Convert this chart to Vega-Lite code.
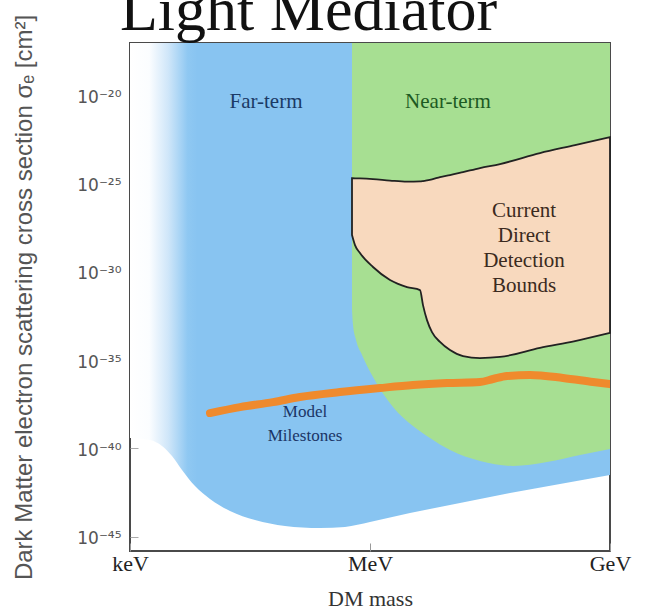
{
  "$schema": "https://vega.github.io/schema/vega-lite/v6.json",
  "width": 480,
  "height": 508,
  "autosize": {"type": "none"},
  "padding": {"left": 130, "top": 43, "right": 47, "bottom": 55},
  "background": "white",
  "view": {"stroke": "#4a4a4a", "strokeWidth": 2},
  "config": {"font": "Liberation Sans"},
  "title": {
    "text": "Light Mediator",
    "font": "Liberation Serif",
    "fontSize": 62,
    "fontWeight": "normal",
    "color": "#111111",
    "anchor": "start",
    "frame": "group",
    "dx": -10,
    "offset": -84,
    "baseline": "alphabetic"
  },
  "datasets": {
    "farTerm": [
      {"mass_exp": 0, "sigma_exp": -39.42},
      {"mass_exp": 0.25, "sigma_exp": -39.53},
      {"mass_exp": 0.4, "sigma_exp": -39.87},
      {"mass_exp": 0.525, "sigma_exp": -40.44},
      {"mass_exp": 0.65, "sigma_exp": -41.23},
      {"mass_exp": 0.8125, "sigma_exp": -42.14},
      {"mass_exp": 1.0, "sigma_exp": -42.87},
      {"mass_exp": 1.25, "sigma_exp": -43.55},
      {"mass_exp": 1.5625, "sigma_exp": -44.06},
      {"mass_exp": 1.9375, "sigma_exp": -44.40},
      {"mass_exp": 2.375, "sigma_exp": -44.52},
      {"mass_exp": 2.6875, "sigma_exp": -44.46},
      {"mass_exp": 3.0, "sigma_exp": -44.18},
      {"mass_exp": 3.5, "sigma_exp": -43.67},
      {"mass_exp": 4.125, "sigma_exp": -43.10},
      {"mass_exp": 4.75, "sigma_exp": -42.53},
      {"mass_exp": 5.375, "sigma_exp": -42.02},
      {"mass_exp": 6.0, "sigma_exp": -41.51}
    ],
    "nearTerm": [
      {"mass_exp": 2.775, "sigma_exp": -32.16},
      {"mass_exp": 2.7875, "sigma_exp": -33.01},
      {"mass_exp": 2.825, "sigma_exp": -33.86},
      {"mass_exp": 2.9, "sigma_exp": -34.71},
      {"mass_exp": 3.0375, "sigma_exp": -35.96},
      {"mass_exp": 3.2875, "sigma_exp": -37.66},
      {"mass_exp": 3.5375, "sigma_exp": -38.74},
      {"mass_exp": 3.75, "sigma_exp": -39.42},
      {"mass_exp": 4.0, "sigma_exp": -40.10},
      {"mass_exp": 4.375, "sigma_exp": -40.72},
      {"mass_exp": 4.7875, "sigma_exp": -41.00},
      {"mass_exp": 5.2125, "sigma_exp": -40.78},
      {"mass_exp": 5.625, "sigma_exp": -40.38},
      {"mass_exp": 6.0, "sigma_exp": -40.04}
    ],
    "currentBounds": [
      {"mass_exp": 2.775, "sigma_top": -24.68, "sigma_exp": -27.91},
      {"mass_exp": 2.8125, "sigma_top": -24.69, "sigma_exp": -28.48},
      {"mass_exp": 2.875, "sigma_top": -24.70, "sigma_exp": -28.93},
      {"mass_exp": 3.0375, "sigma_top": -24.74, "sigma_exp": -29.72},
      {"mass_exp": 3.25, "sigma_top": -24.82, "sigma_exp": -30.46},
      {"mass_exp": 3.4625, "sigma_top": -24.88, "sigma_exp": -30.86},
      {"mass_exp": 3.625, "sigma_top": -24.87, "sigma_exp": -31.03},
      {"mass_exp": 3.6625, "sigma_top": -24.85, "sigma_exp": -31.88},
      {"mass_exp": 3.7125, "sigma_top": -24.81, "sigma_exp": -32.73},
      {"mass_exp": 3.775, "sigma_top": -24.75, "sigma_exp": -33.41},
      {"mass_exp": 3.875, "sigma_top": -24.62, "sigma_exp": -33.97},
      {"mass_exp": 4.0, "sigma_top": -24.51, "sigma_exp": -34.43},
      {"mass_exp": 4.1625, "sigma_top": -24.34, "sigma_exp": -34.77},
      {"mass_exp": 4.375, "sigma_top": -24.11, "sigma_exp": -34.88},
      {"mass_exp": 4.625, "sigma_top": -23.88, "sigma_exp": -34.82},
      {"mass_exp": 5.125, "sigma_top": -23.26, "sigma_exp": -34.31},
      {"mass_exp": 5.5625, "sigma_top": -22.81, "sigma_exp": -33.92},
      {"mass_exp": 6.0, "sigma_top": -22.35, "sigma_exp": -33.46}
    ],
    "milestones": [
      {"mass_exp": 1.0, "sigma_exp": -38.00},
      {"mass_exp": 1.375, "sigma_exp": -37.66},
      {"mass_exp": 1.7875, "sigma_exp": -37.38},
      {"mass_exp": 2.125, "sigma_exp": -37.09},
      {"mass_exp": 2.625, "sigma_exp": -36.81},
      {"mass_exp": 3.125, "sigma_exp": -36.58},
      {"mass_exp": 3.5375, "sigma_exp": -36.41},
      {"mass_exp": 3.9625, "sigma_exp": -36.30},
      {"mass_exp": 4.375, "sigma_exp": -36.24},
      {"mass_exp": 4.5375, "sigma_exp": -36.07},
      {"mass_exp": 4.7125, "sigma_exp": -35.90},
      {"mass_exp": 5.0, "sigma_exp": -35.84},
      {"mass_exp": 5.4125, "sigma_exp": -36.01},
      {"mass_exp": 5.7875, "sigma_exp": -36.24},
      {"mass_exp": 6.0, "sigma_exp": -36.36}
    ],
    "labels": [
      {"region": "far", "label": "Far-term", "mass_exp": 1.7, "sigma_exp": -20.37},
      {"region": "near", "label": "Near-term", "mass_exp": 3.975, "sigma_exp": -20.37},
      {"region": "current", "label": "Current\nDirect\nDetection\nBounds", "mass_exp": 4.925, "sigma_exp": -26.55},
      {"region": "model", "label": "Model\nMilestones", "mass_exp": 2.1875, "sigma_exp": -37.94}
    ]
  },
  "encoding": {
    "x": {
      "field": "mass_exp",
      "type": "quantitative",
      "scale": {"domain": [0, 6], "nice": false, "zero": false},
      "axis": {
        "values": [0, 3, 6],
        "labelExpr": "datum.value == 0 ? 'keV' : datum.value == 3 ? 'MeV' : 'GeV'",
        "labelFlush": false,
        "labelFont": "Liberation Serif",
        "labelFontSize": 22,
        "labelColor": "#222222",
        "labelPadding": 10,
        "tickSize": -8,
        "tickColor": "#999999",
        "domain": false,
        "grid": false,
        "title": "DM mass",
        "titleFont": "Liberation Serif",
        "titleFontSize": 22,
        "titleFontWeight": "normal",
        "titleColor": "#333333",
        "titlePadding": 14
      }
    },
    "y": {
      "field": "sigma_exp",
      "type": "quantitative",
      "scale": {"domain": [-45.82, -17.02], "nice": false, "zero": false},
      "axis": {
        "values": [-45, -40, -35, -30, -25, -20],
        "labelExpr": "datum.value == -20 ? '10⁻²⁰' : datum.value == -25 ? '10⁻²⁵' : datum.value == -30 ? '10⁻³⁰' : datum.value == -35 ? '10⁻³⁵' : datum.value == -40 ? '10⁻⁴⁰' : '10⁻⁴⁵'",
        "labelFlush": false,
        "labelFont": "DejaVu Sans",
        "labelFontSize": 17,
        "labelColor": "#555555",
        "labelPadding": 17,
        "labelOffset": 2,
        "tickSize": -8,
        "tickColor": "#aaaaaa",
        "domain": false,
        "grid": false,
        "title": "Dark Matter electron scattering cross section   σₑ [cm²]",
        "titleFont": "Liberation Sans",
        "titleFontSize": 24,
        "titleFontWeight": "normal",
        "titleColor": "#555555",
        "titlePadding": 40
      }
    }
  },
  "layer": [
    {
      "data": {"name": "farTerm"},
      "mark": {
        "type": "area",
        "interpolate": "monotone",
        "fill": {
          "gradient": "linear",
          "x1": 0, "y1": 0, "x2": 1, "y2": 0,
          "stops": [
            {"offset": 0, "color": "#ffffff"},
            {"offset": 0.04, "color": "#fbfdff"},
            {"offset": 0.08, "color": "#cfe6f9"},
            {"offset": 0.12, "color": "#8fc8f2"},
            {"offset": 0.14, "color": "#88c4f1"},
            {"offset": 1, "color": "#88c4f1"}
          ]
        }
      },
      "encoding": {"y2": {"datum": -17.02}}
    },
    {
      "data": {"name": "nearTerm"},
      "mark": {"type": "area", "interpolate": "monotone", "fill": "#a7df92"},
      "encoding": {"y2": {"datum": -17.02}}
    },
    {
      "data": {"name": "currentBounds"},
      "mark": {"type": "area", "interpolate": "monotone", "fill": "#f8d9be", "stroke": "#222222", "strokeWidth": 1.8},
      "encoding": {"y2": {"field": "sigma_top"}}
    },
    {
      "data": {"name": "milestones"},
      "mark": {"type": "line", "interpolate": "monotone", "color": "#ef8a2d", "strokeWidth": 8, "strokeCap": "round", "clip": true},
      "encoding": {}
    },
    {
      "data": {"name": "labels"},
      "transform": [{"filter": "datum.region == 'far'"}],
      "mark": {"type": "text", "font": "Liberation Serif", "fontSize": 21, "color": "#1b3a66", "align": "center", "baseline": "middle"},
      "encoding": {"text": {"field": "label"}}
    },
    {
      "data": {"name": "labels"},
      "transform": [{"filter": "datum.region == 'near'"}],
      "mark": {"type": "text", "font": "Liberation Serif", "fontSize": 21, "color": "#1d5a22", "align": "center", "baseline": "middle"},
      "encoding": {"text": {"field": "label"}}
    },
    {
      "data": {"name": "labels"},
      "transform": [{"filter": "datum.region == 'current'"}],
      "mark": {"type": "text", "font": "Liberation Serif", "fontSize": 21, "color": "#3b2a20", "align": "center", "baseline": "middle", "lineBreak": "\n", "lineHeight": 25},
      "encoding": {"text": {"field": "label"}}
    },
    {
      "data": {"name": "labels"},
      "transform": [{"filter": "datum.region == 'model'"}],
      "mark": {"type": "text", "font": "Liberation Serif", "fontSize": 17, "color": "#1b3566", "align": "center", "baseline": "middle", "lineBreak": "\n", "lineHeight": 24},
      "encoding": {"text": {"field": "label"}}
    }
  ]
}
